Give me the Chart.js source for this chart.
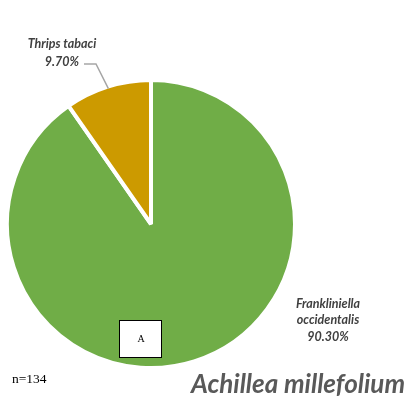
<!DOCTYPE html>
<html>
<head>
<meta charset="utf-8">
<script src="https://cdn.jsdelivr.net/npm/chart.js@4"></script>
<style>
  html, body { margin: 0; padding: 0; background: #fff; }
  #wrap { width: 411px; height: 404px; }
</style>
</head>
<body>
<div id="wrap"><canvas id="pie" width="411" height="404"></canvas></div>
<script>
const species = ['Frankliniella occidentalis', 'Thrips tabaci'];
const shares = [90.30, 9.70];
const sliceColors = ['#70AD47', '#CC9A00'];
const plantName = 'Achillea millefolium';
const sampleSize = 'n=134';
const panelLetter = 'A';

const labelFont = 'italic bold 12.5px Lato, "Open Sans", sans-serif';

const annotations = {
    id: 'annotations',
    afterDraw(chart) {
        const ctx = chart.ctx;
        const arcs = chart.getDatasetMeta(0).data;
        ctx.save();

        // leader line to the small slice
        const a = arcs[1];
        const mid = (a.startAngle + a.endAngle) / 2;
        const ex = a.x + (a.outerRadius - 2) * Math.cos(mid);
        const ey = a.y + (a.outerRadius - 2) * Math.sin(mid);
        ctx.strokeStyle = '#A6A6A6';
        ctx.lineWidth = 1.5;
        ctx.beginPath();
        ctx.moveTo(84, 64);
        ctx.lineTo(96, 64);
        ctx.lineTo(ex, ey);
        ctx.stroke();

        ctx.fillStyle = '#404040';
        ctx.font = labelFont;
        ctx.textAlign = 'center';
        ctx.textBaseline = 'middle';
        ctx.fillText('Thrips tabaci', 62, 44);
        ctx.textAlign = 'right';
        ctx.fillText(shares[1].toFixed(2) + '%', 79, 62);

        ctx.textAlign = 'center';
        const parts = species[0].split(' ');
        ctx.fillText(parts[0], 328, 304);
        ctx.fillText(parts[1], 328, 320);
        ctx.fillText(shares[0].toFixed(2) + '%', 328, 337);

        // panel letter box
        ctx.fillStyle = '#fff';
        ctx.fillRect(119.5, 320.5, 42, 37);
        ctx.strokeStyle = '#000';
        ctx.lineWidth = 1;
        ctx.strokeRect(119.5, 320.5, 42, 37);
        ctx.fillStyle = '#000';
        ctx.font = '10px "Liberation Serif", serif';
        ctx.fillText(panelLetter, 141, 339);

        ctx.textAlign = 'left';
        ctx.font = '13.5px "Liberation Serif", serif';
        ctx.fillText(sampleSize, 12, 379);

        ctx.fillStyle = '#595959';
        ctx.font = 'italic bold 26px Lato, "Open Sans", sans-serif';
        ctx.textAlign = 'right';
        ctx.textBaseline = 'alphabetic';
        ctx.fillText(plantName, 405, 393);
        ctx.restore();
    }
};

new Chart(document.getElementById('pie').getContext('2d'), {
    type: 'pie',
    data: {
        labels: species,
        datasets: [{
            data: shares,
            backgroundColor: sliceColors,
            borderColor: '#ffffff',
            borderWidth: 4
        }]
    },
    options: {
        responsive: false,
        animation: false,
        layout: { padding: { left: 5, right: 114, top: 78, bottom: 34 } },
        plugins: {
            legend: { display: false },
            tooltip: { enabled: false }
        }
    },
    plugins: [annotations]
});
</script>
</body>
</html>
